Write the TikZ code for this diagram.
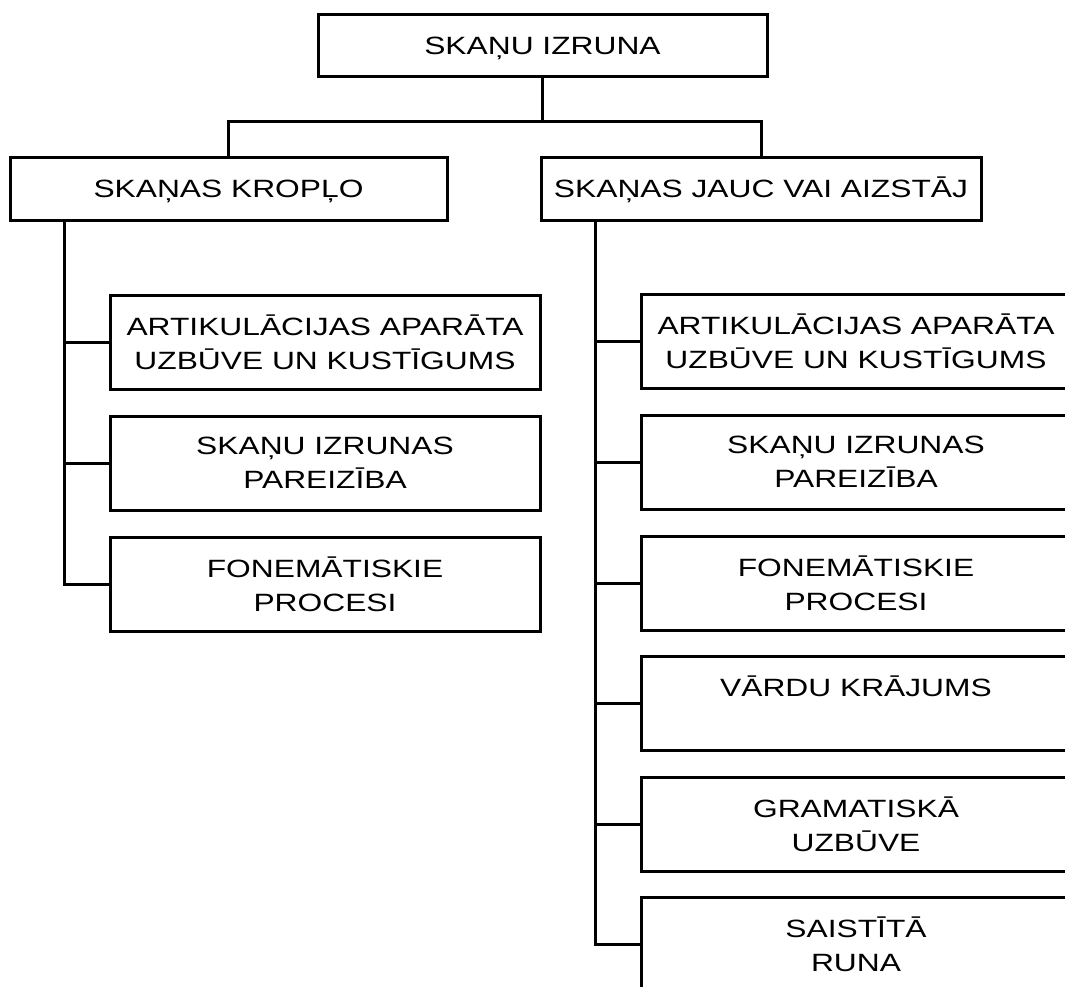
\documentclass[tikz,border=0pt]{standalone}
\usepackage{fontspec}
\setmainfont{Liberation Sans}[FakeStretch=1.27]
\begin{document}
\begin{tikzpicture}[x=1pt,y=-1pt,
  box/.style={draw, line width=3pt, rectangle, inner sep=0pt, outer sep=0pt, align=center,
    font=\fontsize{25}{34}\selectfont},
  headbox/.style={box, minimum height=62pt, text height=18pt, text depth=0pt},
  leafbox/.style={box, minimum width=430pt, minimum height=94pt},
  link/.style={draw, line width=3pt}]
\useasboundingbox (0,0) rectangle (1065,987);
\clip (0,0) rectangle (1065,987);
\node[headbox, minimum width=449pt] (top) at (542.5,46) {SKAŅU IZRUNA};
\node[headbox, minimum width=437pt] (L) at (228.5,189) {SKAŅAS KROPĻO};
\node[headbox, minimum width=440pt] (R) at (761,189) {SKAŅAS JAUC VAI AIZSTĀJ};
\coordinate (bar) at (0,122);
\node[leafbox] (l1) at (325,342) {ARTIKULĀCIJAS APARĀTA\\UZBŪVE UN KUSTĪGUMS};
\node[leafbox] (l2) at (325,463) {SKAŅU IZRUNAS\\PAREIZĪBA};
\node[leafbox] (l3) at (325,584) {FONEMĀTISKIE\\PROCESI};
\node[leafbox] (r1) at (856,341) {ARTIKULĀCIJAS APARĀTA\\UZBŪVE UN KUSTĪGUMS};
\node[leafbox] (r2) at (856,462) {SKAŅU IZRUNAS\\PAREIZĪBA};
\node[leafbox] (r3) at (856,583) {FONEMĀTISKIE\\PROCESI};
\node[leafbox] (r4) at (856,703) {VĀRDU KRĀJUMS\\\mbox{}};
\node[leafbox] (r5) at (856,824) {GRAMATISKĀ\\UZBŪVE};
\node[leafbox] (r6) at (856,944) {SAISTĪTĀ\\RUNA};
\coordinate (lt) at (64,220);
\coordinate (rt) at (595,220);
\draw[link] (top.south) -- (top.south |- bar);
\draw[link] (L.north) |- (R.north |- bar) -- (R.north);
\foreach \n in {l1,l2,l3} \draw[link] (lt) |- (\n.west);
\foreach \n in {r1,r2,r3,r4,r5,r6} \draw[link] (rt) |- (\n.west);
\end{tikzpicture}
\end{document}
